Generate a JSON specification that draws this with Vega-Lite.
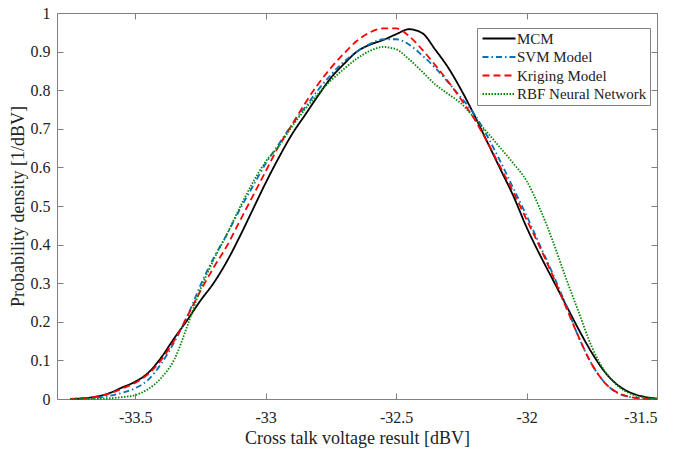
{
  "$schema": "https://vega.github.io/schema/vega-lite/v6.json",
  "width": 600,
  "height": 386,
  "autosize": {"type": "none"},
  "padding": {"left": 57, "top": 13, "right": 19, "bottom": 51},
  "background": "white",
  "config": {"view": {"stroke": null}, "font": "Liberation Serif"},
  "datasets": {
    "curves": [
      {"s":"MCM","x":-33.75,"y":0},{"s":"MCM","x":-33.7,"y":0.002},{"s":"MCM","x":-33.65,"y":0.006},{"s":"MCM","x":-33.6,"y":0.015},{"s":"MCM","x":-33.55,"y":0.03},{"s":"MCM","x":-33.5,"y":0.045},{"s":"MCM","x":-33.45,"y":0.068},{"s":"MCM","x":-33.4,"y":0.108},{"s":"MCM","x":-33.35,"y":0.158},{"s":"MCM","x":-33.3,"y":0.205},{"s":"MCM","x":-33.25,"y":0.255},{"s":"MCM","x":-33.2,"y":0.3},{"s":"MCM","x":-33.15,"y":0.355},{"s":"MCM","x":-33.1,"y":0.42},{"s":"MCM","x":-33.05,"y":0.49},{"s":"MCM","x":-33.0,"y":0.56},{"s":"MCM","x":-32.95,"y":0.625},{"s":"MCM","x":-32.9,"y":0.685},{"s":"MCM","x":-32.85,"y":0.735},{"s":"MCM","x":-32.8,"y":0.785},{"s":"MCM","x":-32.75,"y":0.832},{"s":"MCM","x":-32.7,"y":0.868},{"s":"MCM","x":-32.65,"y":0.9},{"s":"MCM","x":-32.6,"y":0.918},{"s":"MCM","x":-32.55,"y":0.93},{"s":"MCM","x":-32.5,"y":0.945},{"s":"MCM","x":-32.45,"y":0.958},{"s":"MCM","x":-32.4,"y":0.948},{"s":"MCM","x":-32.35,"y":0.905},{"s":"MCM","x":-32.3,"y":0.858},{"s":"MCM","x":-32.25,"y":0.8},{"s":"MCM","x":-32.2,"y":0.735},{"s":"MCM","x":-32.15,"y":0.665},{"s":"MCM","x":-32.1,"y":0.595},{"s":"MCM","x":-32.05,"y":0.525},{"s":"MCM","x":-32.0,"y":0.445},{"s":"MCM","x":-31.95,"y":0.375},{"s":"MCM","x":-31.9,"y":0.31},{"s":"MCM","x":-31.85,"y":0.245},{"s":"MCM","x":-31.8,"y":0.18},{"s":"MCM","x":-31.75,"y":0.12},{"s":"MCM","x":-31.7,"y":0.07},{"s":"MCM","x":-31.65,"y":0.036},{"s":"MCM","x":-31.6,"y":0.016},{"s":"MCM","x":-31.55,"y":0.006},{"s":"MCM","x":-31.5,"y":0.001},

      {"s":"SVM Model","x":-33.75,"y":0},{"s":"SVM Model","x":-33.7,"y":0.001},{"s":"SVM Model","x":-33.65,"y":0.003},{"s":"SVM Model","x":-33.6,"y":0.008},{"s":"SVM Model","x":-33.55,"y":0.016},{"s":"SVM Model","x":-33.5,"y":0.028},{"s":"SVM Model","x":-33.45,"y":0.05},{"s":"SVM Model","x":-33.4,"y":0.092},{"s":"SVM Model","x":-33.35,"y":0.148},{"s":"SVM Model","x":-33.3,"y":0.215},{"s":"SVM Model","x":-33.25,"y":0.295},{"s":"SVM Model","x":-33.2,"y":0.365},{"s":"SVM Model","x":-33.15,"y":0.425},{"s":"SVM Model","x":-33.1,"y":0.49},{"s":"SVM Model","x":-33.05,"y":0.55},{"s":"SVM Model","x":-33.0,"y":0.61},{"s":"SVM Model","x":-32.95,"y":0.66},{"s":"SVM Model","x":-32.9,"y":0.71},{"s":"SVM Model","x":-32.85,"y":0.755},{"s":"SVM Model","x":-32.8,"y":0.8},{"s":"SVM Model","x":-32.75,"y":0.84},{"s":"SVM Model","x":-32.7,"y":0.874},{"s":"SVM Model","x":-32.65,"y":0.9},{"s":"SVM Model","x":-32.6,"y":0.92},{"s":"SVM Model","x":-32.55,"y":0.932},{"s":"SVM Model","x":-32.5,"y":0.932},{"s":"SVM Model","x":-32.45,"y":0.918},{"s":"SVM Model","x":-32.4,"y":0.89},{"s":"SVM Model","x":-32.35,"y":0.858},{"s":"SVM Model","x":-32.3,"y":0.82},{"s":"SVM Model","x":-32.25,"y":0.78},{"s":"SVM Model","x":-32.2,"y":0.738},{"s":"SVM Model","x":-32.15,"y":0.68},{"s":"SVM Model","x":-32.1,"y":0.615},{"s":"SVM Model","x":-32.05,"y":0.545},{"s":"SVM Model","x":-32.0,"y":0.475},{"s":"SVM Model","x":-31.95,"y":0.4},{"s":"SVM Model","x":-31.9,"y":0.325},{"s":"SVM Model","x":-31.85,"y":0.245},{"s":"SVM Model","x":-31.8,"y":0.16},{"s":"SVM Model","x":-31.75,"y":0.09},{"s":"SVM Model","x":-31.7,"y":0.042},{"s":"SVM Model","x":-31.65,"y":0.015},{"s":"SVM Model","x":-31.6,"y":0.005},{"s":"SVM Model","x":-31.55,"y":0.001},{"s":"SVM Model","x":-31.5,"y":0},

      {"s":"Kriging Model","x":-33.75,"y":0},{"s":"Kriging Model","x":-33.7,"y":0.002},{"s":"Kriging Model","x":-33.65,"y":0.006},{"s":"Kriging Model","x":-33.6,"y":0.014},{"s":"Kriging Model","x":-33.55,"y":0.027},{"s":"Kriging Model","x":-33.5,"y":0.042},{"s":"Kriging Model","x":-33.45,"y":0.065},{"s":"Kriging Model","x":-33.4,"y":0.102},{"s":"Kriging Model","x":-33.35,"y":0.152},{"s":"Kriging Model","x":-33.3,"y":0.215},{"s":"Kriging Model","x":-33.25,"y":0.28},{"s":"Kriging Model","x":-33.2,"y":0.34},{"s":"Kriging Model","x":-33.15,"y":0.395},{"s":"Kriging Model","x":-33.1,"y":0.46},{"s":"Kriging Model","x":-33.05,"y":0.525},{"s":"Kriging Model","x":-33.0,"y":0.59},{"s":"Kriging Model","x":-32.95,"y":0.655},{"s":"Kriging Model","x":-32.9,"y":0.71},{"s":"Kriging Model","x":-32.85,"y":0.765},{"s":"Kriging Model","x":-32.8,"y":0.815},{"s":"Kriging Model","x":-32.75,"y":0.858},{"s":"Kriging Model","x":-32.7,"y":0.895},{"s":"Kriging Model","x":-32.65,"y":0.928},{"s":"Kriging Model","x":-32.6,"y":0.95},{"s":"Kriging Model","x":-32.55,"y":0.96},{"s":"Kriging Model","x":-32.5,"y":0.96},{"s":"Kriging Model","x":-32.45,"y":0.94},{"s":"Kriging Model","x":-32.4,"y":0.905},{"s":"Kriging Model","x":-32.35,"y":0.865},{"s":"Kriging Model","x":-32.3,"y":0.822},{"s":"Kriging Model","x":-32.25,"y":0.775},{"s":"Kriging Model","x":-32.2,"y":0.725},{"s":"Kriging Model","x":-32.15,"y":0.665},{"s":"Kriging Model","x":-32.1,"y":0.6},{"s":"Kriging Model","x":-32.05,"y":0.535},{"s":"Kriging Model","x":-32.0,"y":0.465},{"s":"Kriging Model","x":-31.95,"y":0.395},{"s":"Kriging Model","x":-31.9,"y":0.32},{"s":"Kriging Model","x":-31.85,"y":0.24},{"s":"Kriging Model","x":-31.8,"y":0.16},{"s":"Kriging Model","x":-31.75,"y":0.09},{"s":"Kriging Model","x":-31.7,"y":0.042},{"s":"Kriging Model","x":-31.65,"y":0.016},{"s":"Kriging Model","x":-31.6,"y":0.005},{"s":"Kriging Model","x":-31.55,"y":0.001},{"s":"Kriging Model","x":-31.5,"y":0},

      {"s":"RBF Neural Network","x":-33.75,"y":0},{"s":"RBF Neural Network","x":-33.7,"y":0},{"s":"RBF Neural Network","x":-33.65,"y":0.001},{"s":"RBF Neural Network","x":-33.6,"y":0.002},{"s":"RBF Neural Network","x":-33.55,"y":0.005},{"s":"RBF Neural Network","x":-33.5,"y":0.01},{"s":"RBF Neural Network","x":-33.45,"y":0.026},{"s":"RBF Neural Network","x":-33.4,"y":0.055},{"s":"RBF Neural Network","x":-33.35,"y":0.103},{"s":"RBF Neural Network","x":-33.3,"y":0.19},{"s":"RBF Neural Network","x":-33.25,"y":0.285},{"s":"RBF Neural Network","x":-33.2,"y":0.36},{"s":"RBF Neural Network","x":-33.15,"y":0.425},{"s":"RBF Neural Network","x":-33.1,"y":0.495},{"s":"RBF Neural Network","x":-33.05,"y":0.56},{"s":"RBF Neural Network","x":-33.0,"y":0.615},{"s":"RBF Neural Network","x":-32.95,"y":0.655},{"s":"RBF Neural Network","x":-32.9,"y":0.705},{"s":"RBF Neural Network","x":-32.85,"y":0.75},{"s":"RBF Neural Network","x":-32.8,"y":0.79},{"s":"RBF Neural Network","x":-32.75,"y":0.825},{"s":"RBF Neural Network","x":-32.7,"y":0.855},{"s":"RBF Neural Network","x":-32.65,"y":0.882},{"s":"RBF Neural Network","x":-32.6,"y":0.902},{"s":"RBF Neural Network","x":-32.55,"y":0.912},{"s":"RBF Neural Network","x":-32.5,"y":0.906},{"s":"RBF Neural Network","x":-32.45,"y":0.88},{"s":"RBF Neural Network","x":-32.4,"y":0.848},{"s":"RBF Neural Network","x":-32.35,"y":0.815},{"s":"RBF Neural Network","x":-32.3,"y":0.79},{"s":"RBF Neural Network","x":-32.25,"y":0.765},{"s":"RBF Neural Network","x":-32.2,"y":0.728},{"s":"RBF Neural Network","x":-32.15,"y":0.69},{"s":"RBF Neural Network","x":-32.1,"y":0.65},{"s":"RBF Neural Network","x":-32.05,"y":0.61},{"s":"RBF Neural Network","x":-32.0,"y":0.565},{"s":"RBF Neural Network","x":-31.95,"y":0.495},{"s":"RBF Neural Network","x":-31.9,"y":0.41},{"s":"RBF Neural Network","x":-31.85,"y":0.315},{"s":"RBF Neural Network","x":-31.8,"y":0.225},{"s":"RBF Neural Network","x":-31.75,"y":0.135},{"s":"RBF Neural Network","x":-31.7,"y":0.072},{"s":"RBF Neural Network","x":-31.65,"y":0.034},{"s":"RBF Neural Network","x":-31.6,"y":0.013},{"s":"RBF Neural Network","x":-31.55,"y":0.004},{"s":"RBF Neural Network","x":-31.5,"y":0.001}
    ]
  },
  "data": {"name": "curves"},
  "layer": [
    {
      "mark": {"type": "point", "opacity": 0},
      "encoding": {
        "x": {"field": "x", "type": "quantitative",
          "scale": {"domain": [-33.8, -31.5], "nice": false, "zero": false},
          "axis": {"orient": "top", "values": [-33.5, -33, -32.5, -32, -31.5], "labels": false, "title": null, "grid": false,
            "domainColor": "#808080", "tickColor": "#808080", "tickSize": -6, "domainWidth": 1}},
        "y": {"field": "y", "type": "quantitative",
          "scale": {"domain": [0, 1], "nice": false},
          "axis": {"orient": "right", "values": [0,0.1,0.2,0.3,0.4,0.5,0.6,0.7,0.8,0.9,1], "labels": false, "title": null, "grid": false,
            "domainColor": "#808080", "tickColor": "#808080", "tickSize": -6, "domainWidth": 1}}
      }
    },
    {
      "mark": {"type": "line", "interpolate": "monotone", "strokeWidth": 1.8},
      "encoding": {
        "x": {"field": "x", "type": "quantitative",
          "scale": {"domain": [-33.8, -31.5], "nice": false, "zero": false},
          "axis": {"orient": "bottom", "values": [-33.5, -33, -32.5, -32, -31.5], "grid": false,
            "labelExpr": "'' + datum.value", "labelFontSize": 16, "labelColor": "#222", "labelPadding": 16,
            "domainColor": "#808080", "tickColor": "#808080", "tickSize": -6, "domainWidth": 1,
            "title": "Cross talk voltage result [dBV]", "titleFontSize": 18, "titleFontWeight": "normal", "titleColor": "#222", "titlePadding": 4}},
        "y": {"field": "y", "type": "quantitative",
          "scale": {"domain": [0, 1], "nice": false},
          "axis": {"orient": "left", "values": [0,0.1,0.2,0.3,0.4,0.5,0.6,0.7,0.8,0.9,1], "grid": false,
            "labelExpr": "'' + datum.value", "labelFontSize": 16, "labelColor": "#222", "labelPadding": 13,
            "domainColor": "#808080", "tickColor": "#808080", "tickSize": -6, "domainWidth": 1,
            "title": "Probability density [1/dBV]", "titleFontSize": 18, "titleFontWeight": "normal", "titleColor": "#222", "titlePadding": 3}},
        "color": {"field": "s", "type": "nominal",
          "scale": {"domain": ["MCM", "SVM Model", "Kriging Model", "RBF Neural Network"], "range": ["#000000", "#0072BD", "#FF0000", "#008800"]},
          "legend": {"title": null, "orient": "none", "legendX": 420, "legendY": 15, "symbolType": "M-1,0L5.6,0", "symbolSize": 100, "symbolStrokeWidth": 2,
            "labelFontSize": 15, "labelColor": "#222", "labelLimit": 300, "strokeColor": "#808080", "fillColor": "white", "padding": 3, "rowPadding": 2.5, "labelOffset": 22}},
        "strokeDash": {"field": "s", "type": "nominal",
          "scale": {"domain": ["MCM", "SVM Model", "Kriging Model", "RBF Neural Network"], "range": [[1, 0], [6, 3, 1.5, 3], [7, 4], [1.5, 1.5]]},
          "legend": {"title": null, "orient": "none", "legendX": 420, "legendY": 15, "symbolType": "M-1,0L5.6,0", "symbolSize": 100, "symbolStrokeWidth": 2,
            "labelFontSize": 15, "labelColor": "#222", "labelLimit": 300, "strokeColor": "#808080", "fillColor": "white", "padding": 3, "rowPadding": 2.5, "labelOffset": 22}}
      }
    }
  ],
  "resolve": {"axis": {"x": "independent", "y": "independent"}}
}
